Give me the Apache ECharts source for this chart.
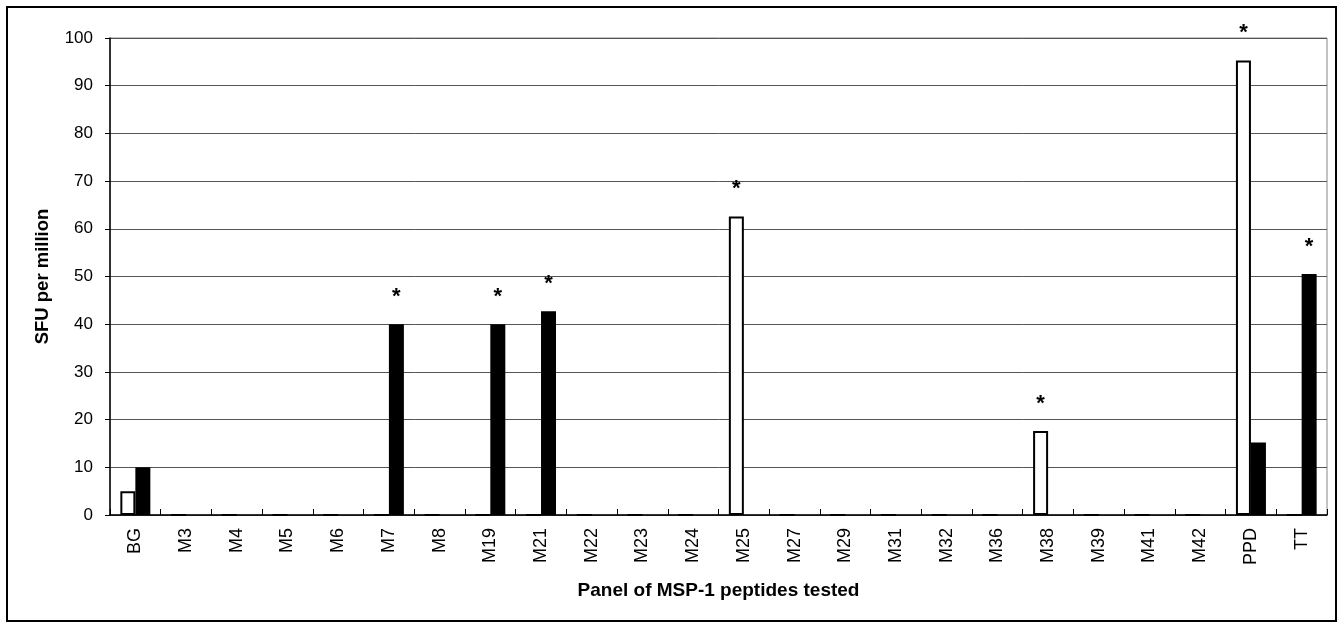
<!DOCTYPE html>
<html>
<head>
<meta charset="utf-8">
<script src="https://cdn.jsdelivr.net/npm/echarts@6/dist/echarts.min.js"></script>
<style>
html,body{margin:0;padding:0;background:#fff;}
#chart{width:1338px;height:623px;}
</style>
</head>
<body>
<div id="chart"></div>
<script>
const categories = ['BG','M3','M4','M5','M6','M7','M8','M19','M21','M22','M23','M24','M25','M27','M29','M31','M32','M36','M38','M39','M41','M42','PPD','TT'];
const whiteValues = [5,0,0,0,0,0,0,0,0,0,0,0,62.6,0,0,0,0,0,17.6,0,0,0,95.3,0];
const blackValues = [10,0,0,0,0,40,0,40,42.7,0,0,0,0,0,0,0,0,0,0,0,0,0,15.2,50.5];
const whiteSignificant = ['M25','M38','PPD'];
const blackSignificant = ['M7','M19','M21','TT'];
const yTicks = {min:0, max:100, interval:10};

const chart = echarts.init(document.getElementById('chart'), null, {renderer:'canvas'});
const font = 'Liberation Sans, Arial, sans-serif';
const starLabel = (list) => ({
  show: true,
  position: 'top',
  distance: 16,
  fontSize: 22,
  fontWeight: 'bold',
  fontFamily: font,
  color: '#000',
  formatter: p => list.includes(p.name) ? '*' : ''
});
chart.setOption({
  animation: false,
  backgroundColor: '#fff',
  graphic: [{
    type: 'rect',
    shape: {x: 7, y: 7, width: 1329, height: 614},
    style: {fill: 'none', stroke: '#000', lineWidth: 2},
    silent: true,
    z: -10
  }],
  grid: {left: 110, right: 11, top: 38, bottom: 108, show: true, borderColor: '#888', borderWidth: 1},
  xAxis: {
    type: 'category',
    data: categories,
    name: 'Panel of MSP-1 peptides tested',
    nameLocation: 'middle',
    nameGap: 66,
    nameTextStyle: {fontSize: 19, fontWeight: 'bold', fontFamily: font, color: '#000'},
    axisLine: {lineStyle: {color: '#000', width: 1.5}},
    axisTick: {show: true, inside: true, length: 6, lineStyle: {color: '#000'}},
    axisLabel: {rotate: 90, fontSize: 18, fontFamily: font, color: '#000', margin: 13, interval: 0},
    splitLine: {show: false}
  },
  yAxis: {
    type: 'value',
    min: yTicks.min, max: yTicks.max, interval: yTicks.interval,
    name: 'SFU per million',
    nameLocation: 'middle',
    nameGap: 58,
    nameTextStyle: {fontSize: 18.5, fontWeight: 'bold', fontFamily: font, color: '#000'},
    axisLine: {show: true, lineStyle: {color: '#000', width: 1.5}},
    axisTick: {show: true, length: 5, lineStyle: {color: '#000'}},
    axisLabel: {fontSize: 17, fontFamily: font, color: '#000', margin: 17},
    splitLine: {show: true, lineStyle: {color: '#555', width: 1}}
  },
  series: [
    {
      type: 'bar',
      data: whiteValues,
      barWidth: 15,
      barGap: '0%',
      itemStyle: {color: '#fff', borderColor: '#000', borderWidth: 2},
      label: starLabel(whiteSignificant)
    },
    {
      type: 'bar',
      data: blackValues,
      barWidth: 15,
      barGap: '0%',
      itemStyle: {color: '#000'},
      label: starLabel(blackSignificant)
    }
  ]
});
</script>
</body>
</html>
